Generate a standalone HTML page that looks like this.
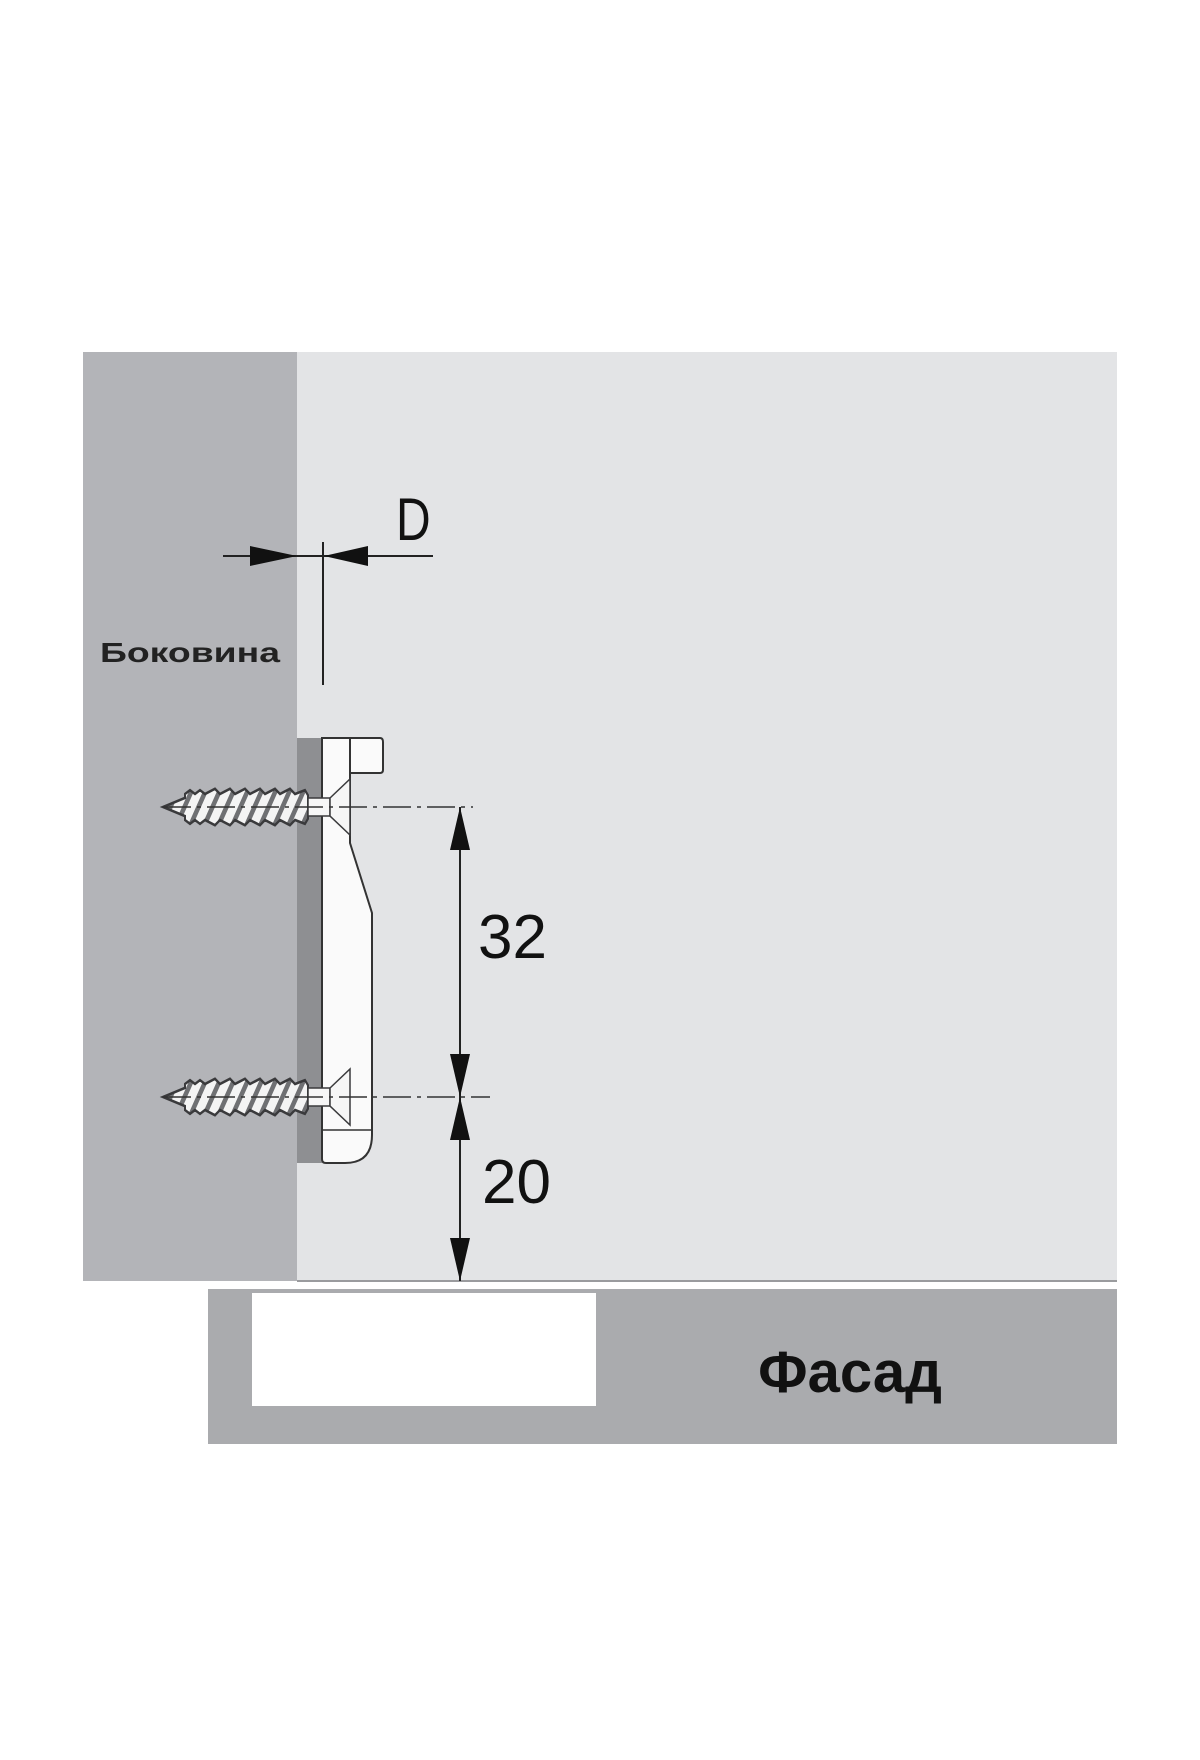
<!DOCTYPE html>
<html><head><meta charset="utf-8"><style>
html,body{margin:0;padding:0;background:#fff}
svg{display:block}
</style></head><body>
<svg width="1200" height="1760" viewBox="0 0 1200 1760" xmlns="http://www.w3.org/2000/svg">
<defs>
<pattern id="thr" width="14" height="40" patternUnits="userSpaceOnUse" patternTransform="skewX(-30)">
<rect width="14" height="40" fill="#f4f4f4"/>
<rect x="0" width="5" height="40" fill="#6f7073"/>
</pattern>
<g id="screw">
<g transform="translate(0 0) scale(1 1.3)">
<path d="M163,0 L185,-7 L185,-10 L190,-13 L195,-10 L200,-13 L205,-10 L215,-14 L220,-10 L230,-14 L235,-10 L245,-14 L250,-10 L260,-14 L265,-10 L275,-14 L280,-10 L290,-14 L295,-10 L305,-13 L308,-9 L308,9 L305,13 L295,10 L290,14 L280,10 L275,14 L265,10 L260,14 L250,10 L245,14 L235,10 L230,14 L220,10 L215,14 L205,10 L200,13 L195,10 L190,13 L185,10 L185,7 Z" fill="url(#thr)" stroke="#3a3a3c" stroke-width="2"/>
</g>
<rect x="308" y="-9" width="22" height="18" fill="#f6f6f6" stroke="#3a3a3c" stroke-width="1.5"/>
<path d="M330,-9 L350,-28 L350,28 L330,9 Z" fill="#f6f6f6" stroke="#3a3a3c" stroke-width="1.5"/>
</g>
</defs>
<rect x="83" y="352" width="214" height="929" fill="#b3b4b8"/>
<rect x="297" y="352" width="820" height="929" fill="#e3e4e6"/>
<line x1="297" y1="1281" x2="1117" y2="1281" fill="none" stroke="#9a9b9e" stroke-width="2"/>
<rect x="208" y="1289" width="909" height="155" fill="#aaabae"/>
<rect x="252" y="1293" width="344" height="113" fill="#fff"/>
<text x="850" y="1392" text-anchor="middle" font-family="Liberation Sans, sans-serif" font-weight="bold" font-size="58" fill="#111">Фасад</text>
<text x="100" y="662" font-family="Liberation Sans, sans-serif" font-weight="bold" font-size="28" fill="#222" textLength="180" lengthAdjust="spacingAndGlyphs">Боковина</text>
<!-- D dimension -->
<line x1="223" y1="556" x2="433" y2="556" stroke="#222" stroke-width="2"/>
<line x1="323" y1="542" x2="323" y2="685" stroke="#222" stroke-width="2"/>
<polygon points="250,546 297,556 250,566" fill="#111"/>
<polygon points="368,546 324,556 368,566" fill="#111"/>
<text x="396" y="540" font-family="Liberation Sans, sans-serif" font-size="60" fill="#111" transform="translate(396 540) scale(0.8 1) translate(-396 -540)">D</text>
<!-- plate -->
<rect x="297" y="738" width="25" height="425" fill="#8e8f92"/>
<path d="M322,738 L380,738 Q383,738 383,742 L383,770 Q383,773 380,773 L350,773 L350,843 L372,913 L372,1135 Q372,1163 345,1163 L326,1163 Q322,1163 322,1159 Z" fill="#fafafa" stroke="#333" stroke-width="2"/>
<line x1="350" y1="738" x2="350" y2="773" stroke="#333" stroke-width="2"/>
<line x1="322" y1="1130" x2="372" y2="1130" stroke="#333" stroke-width="1.5"/>
<use href="#screw" transform="translate(0 807)"/>
<use href="#screw" transform="translate(0 1097)"/>
<!-- center lines -->
<line x1="163" y1="807" x2="473" y2="807" stroke="#333" stroke-width="1.5" stroke-dasharray="28,6,4,6"/>
<line x1="163" y1="1097" x2="490" y2="1097" stroke="#333" stroke-width="1.5" stroke-dasharray="28,6,4,6"/>
<!-- vertical dimension -->
<line x1="460" y1="807" x2="460" y2="1281" stroke="#222" stroke-width="2"/>
<polygon points="450,850 460,807 470,850" fill="#111"/>
<polygon points="450,1054 460,1097 470,1054" fill="#111"/>
<polygon points="450,1140 460,1097 470,1140" fill="#111"/>
<polygon points="450,1238 460,1281 470,1238" fill="#111"/>
<text x="478" y="958" font-family="Liberation Sans, sans-serif" font-size="62" fill="#111">32</text>
<text x="482" y="1203" font-family="Liberation Sans, sans-serif" font-size="62" fill="#111">20</text>
</svg>
</body></html>
